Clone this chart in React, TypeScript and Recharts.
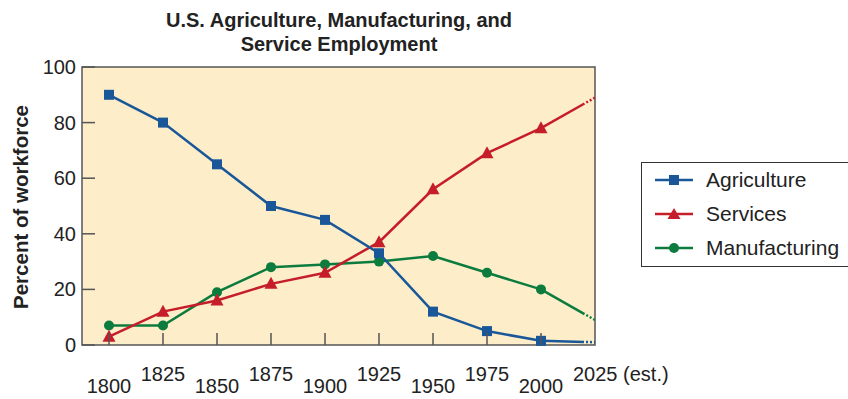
import React from "react";
import { LineChart, Line, XAxis, YAxis, ReferenceArea } from "recharts";

const years = [1800, 1825, 1850, 1875, 1900, 1925, 1950, 1975, 2000, 2025];
const agriculture = [90, 80, 65, 50, 45, 33, 12, 5, 1.5, null];
const services = [3, 12, 16, 22, 26, 37, 56, 69, 78, null];
const manufacturing = [7, 7, 19, 28, 29, 30, 32, 26, 20, null];
// "estimate" stretch, 2000 -> 2025 (solid, fading out in dots at the end)
const agricultureEst = [null, null, null, null, null, null, null, null, 1.5, 1];
const servicesEst = [null, null, null, null, null, null, null, null, 78, 89];
const manufacturingEst = [null, null, null, null, null, null, null, null, 20, 9];
const yTicks = [0, 20, 40, 60, 80, 100];

const BLUE = "#1a5799";
const RED = "#c61d2a";
const GREEN = "#0c7c3e";
const BG = "#fdedc9";
const AXIS = "#555";
const FONT = "'Liberation Sans', Arial, Helvetica, sans-serif";

const data = years.map((year, i) => ({
  year,
  agriculture: agriculture[i],
  services: services[i],
  manufacturing: manufacturing[i],
  agricultureEst: agricultureEst[i],
  servicesEst: servicesEst[i],
  manufacturingEst: manufacturingEst[i],
}));

const SquareDot = (props: any) => {
  const { cx, cy } = props;
  if (cx == null || cy == null) return <g />;
  return <rect x={cx - 5} y={cy - 5} width={10} height={10} fill={BLUE} />;
};

const TriangleDot = (props: any) => {
  const { cx, cy } = props;
  if (cx == null || cy == null) return <g />;
  return (
    <polygon
      points={`${cx},${cy - 7} ${cx - 6.5},${cy + 5} ${cx + 6.5},${cy + 5}`}
      fill={RED}
    />
  );
};

const CircleDot = (props: any) => {
  const { cx, cy } = props;
  if (cx == null || cy == null) return <g />;
  return <circle cx={cx} cy={cy} r={5} fill={GREEN} />;
};

const XTick = (props: any) => {
  const { x, y, payload } = props;
  const i = years.indexOf(payload.value);
  const low = i % 2 === 0;
  const last = payload.value === 2025;
  return (
    <g>
      {!last && (
        <line x1={x} x2={x} y1={y} y2={y - 12} stroke={AXIS} strokeWidth={1.5} />
      )}
      <text
        x={last ? x - 22 : x}
        y={y + (low ? 48 : 36)}
        textAnchor={last ? "start" : "middle"}
        fontSize={20}
        fontFamily={FONT}
        fill="#222"
      >
        {last ? "2025 (est.)" : payload.value}
      </text>
    </g>
  );
};

const YTick = (props: any) => {
  const { x, y, payload } = props;
  return (
    <g>
      <line x1={x + 6} x2={x + 19} y1={y} y2={y} stroke={AXIS} strokeWidth={1.5} />
      <text
        x={x}
        y={y + 7}
        textAnchor="end"
        fontSize={20}
        fontFamily={FONT}
        fill="#222"
      >
        {payload.value}
      </text>
    </g>
  );
};

const legendItems = [
  { label: "Agriculture", color: BLUE, shape: "square" },
  { label: "Services", color: RED, shape: "triangle" },
  { label: "Manufacturing", color: GREEN, shape: "circle" },
];

function LegendIcon({ color, shape }: { color: string; shape: string }) {
  return (
    <svg width={40} height={14} style={{ display: "block" }}>
      <line x1={1} x2={39} y1={7} y2={7} stroke={color} strokeWidth={2.5} />
      {shape === "square" && <rect x={15} y={2} width={10} height={10} fill={color} />}
      {shape === "triangle" && <polygon points="20,1 13.5,12 26.5,12" fill={color} />}
      {shape === "circle" && <circle cx={20} cy={7} r={5} fill={color} />}
    </svg>
  );
}

// solid, then a few dots before the right edge
const tailDash = (solid: number) => `${solid} 2 2 2 2 2 2 2 2 200`;

export default function App() {
  return (
    <div
      style={{
        position: "absolute",
        left: 0,
        top: 0,
        width: 848,
        height: 399,
        background: "#fff",
        fontFamily: FONT,
        overflow: "hidden",
      }}
    >
      <div
        style={{
          position: "absolute",
          left: 139,
          width: 400,
          top: 8,
          textAlign: "center",
          fontSize: 20,
          fontWeight: 700,
          lineHeight: "24px",
          color: "#222",
        }}
      >
        U.S. Agriculture, Manufacturing, and
        <br />
        Service Employment
      </div>

      <LineChart
        width={848}
        height={399}
        data={data}
        margin={{ top: 67, right: 253, bottom: 0, left: 0 }}
      >
        <XAxis
          dataKey="year"
          type="number"
          domain={[1787.5, 2025]}
          ticks={years}
          interval={0}
          allowDataOverflow
          axisLine={false}
          tickLine={false}
          tickSize={0}
          tickMargin={0}
          height={54}
          tick={<XTick />}
        />
        <YAxis
          type="number"
          domain={[0, 100]}
          ticks={yTicks}
          interval={0}
          axisLine={false}
          tickLine={false}
          tickSize={0}
          tickMargin={6}
          width={82}
          tick={<YTick />}
          label={{
            value: "Percent of workforce",
            angle: -90,
            position: "insideLeft",
            content: () => (
              <text
                x={20}
                y={207}
                transform="rotate(-90 20 207)"
                textAnchor="middle"
                dominantBaseline="central"
                fontSize={20.5}
                fontWeight={700}
                fontFamily={FONT}
                fill="#222"
              >
                Percent of workforce
              </text>
            ),
          }}
        />
        <ReferenceArea
          x1={1787.5}
          x2={2025}
          y1={0}
          y2={100}
          fill={BG}
          fillOpacity={1}
          stroke={AXIS}
          strokeWidth={1.5}
        />
        <Line
          dataKey="manufacturingEst"
          stroke={GREEN}
          strokeWidth={2.5}
          strokeDasharray={tailDash(50)}
          dot={false}
          activeDot={false}
          isAnimationActive={false}
        />
        <Line
          dataKey="servicesEst"
          stroke={RED}
          strokeWidth={2.5}
          strokeDasharray={tailDash(50)}
          dot={false}
          activeDot={false}
          isAnimationActive={false}
        />
        <Line
          dataKey="agricultureEst"
          stroke={BLUE}
          strokeWidth={2.5}
          strokeDasharray={tailDash(43)}
          dot={false}
          activeDot={false}
          isAnimationActive={false}
        />
        <Line
          dataKey="manufacturing"
          stroke={GREEN}
          strokeWidth={2.5}
          dot={<CircleDot />}
          activeDot={false}
          isAnimationActive={false}
        />
        <Line
          dataKey="services"
          stroke={RED}
          strokeWidth={2.5}
          dot={<TriangleDot />}
          activeDot={false}
          isAnimationActive={false}
        />
        <Line
          dataKey="agriculture"
          stroke={BLUE}
          strokeWidth={2.5}
          dot={<SquareDot />}
          activeDot={false}
          isAnimationActive={false}
        />
      </LineChart>

      <div
        style={{
          position: "absolute",
          left: 641,
          top: 162,
          width: 220,
          height: 105,
          border: "1.5px solid #333",
          boxSizing: "border-box",
        }}
      >
        {legendItems.map((item, i) => (
          <div
            key={item.label}
            style={{
              position: "absolute",
              left: 12,
              top: 3 + i * 34,
              height: 28,
              display: "flex",
              alignItems: "center",
              fontSize: 21,
              color: "#222",
              whiteSpace: "nowrap",
            }}
          >
            <LegendIcon color={item.color} shape={item.shape} />
            <span style={{ marginLeft: 12 }}>{item.label}</span>
          </div>
        ))}
      </div>
    </div>
  );
}
